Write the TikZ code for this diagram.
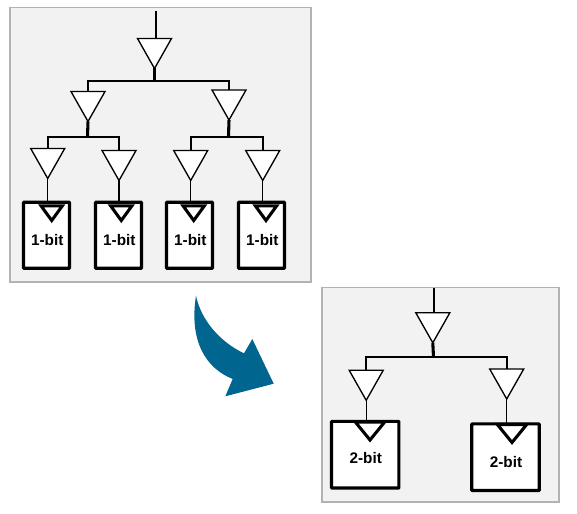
\documentclass[tikz,border=0pt]{standalone}
\usepackage{fontspec}
\setmainfont{Liberation Sans}
\usetikzlibrary{shapes.geometric}

\begin{document}
\begin{tikzpicture}[x=0.75pt,y=-0.75pt]
\tikzset{
  panelbox/.style={draw=black!30,fill=black!5,line width=1.1pt,inner sep=0pt,outer sep=0pt},
  bufnode/.style={isosceles triangle,isosceles triangle stretches,shape border rotate=-90,draw,fill=white,line width=1pt,inner sep=0pt,outer sep=0pt,minimum width=25.5pt,minimum height=22.5pt,anchor=apex},
  clknode/.style={isosceles triangle,isosceles triangle stretches,shape border rotate=-90,draw,fill=white,line width=2.3pt,inner sep=0pt,outer sep=0pt,anchor=apex},
  ffbox/.style={rectangle,draw,fill=white,line width=2.4pt,inner sep=0pt,outer sep=0pt,rounded corners=0.5pt},
  bitlabel/.style={font=\fontsize{11.5}{13}\selectfont\bfseries,inner sep=0pt},
  wire/.style={line width=1.3pt},
  feed/.style={line width=1pt},
  stem/.style={line width=2.3pt}
}
\useasboundingbox (0,0) rectangle (577,513);
\node[panelbox,minimum width=225.5pt,minimum height=206pt] (n_panelA) at (160.5,144.7) {};
\node[panelbox,minimum width=178pt,minimum height=161pt] (n_panelB) at (440.5,394.8) {};
% upper tree
\coordinate (n_inA) at (156,11);
\coordinate (n_busA) at (154.5,81.3);
\coordinate (n_busL) at (87.5,136.7);
\coordinate (n_busR) at (228.5,136.7);
\node[bufnode] (n_a0) at (154.5,68.5) {};
\node[bufnode] (n_a1) at (88,121.5) {};
\node[bufnode] (n_a2) at (229,120) {};
\node[bufnode] (n_a3) at (47.7,178.5) {};
\node[bufnode] (n_a4) at (119,180.5) {};
\node[bufnode] (n_a5) at (190.7,180.5) {};
\node[bufnode] (n_a6) at (262.7,180.5) {};
\node[ffbox,minimum width=34.5pt,minimum height=49.5pt] (n_ff1) at (46.5,235.3) {};
\node[ffbox,minimum width=34.5pt,minimum height=49.5pt] (n_ff2) at (118.5,235.3) {};
\node[ffbox,minimum width=34.5pt,minimum height=49.5pt] (n_ff3) at (189.5,235.3) {};
\node[ffbox,minimum width=34.5pt,minimum height=49.5pt] (n_ff4) at (261.5,235.3) {};
\node[clknode,minimum width=16pt,minimum height=11pt] (n_clk1) at (51.7,220.5) {};
\node[clknode,minimum width=16pt,minimum height=11pt] (n_clk2) at (121.3,220.5) {};
\node[clknode,minimum width=16pt,minimum height=11pt] (n_clk3) at (193.7,220.5) {};
\node[clknode,minimum width=16pt,minimum height=11pt] (n_clk4) at (266,220.5) {};
\node[bitlabel] (n_lab1) at (47.3,240.5) {1-bit};
\node[bitlabel] (n_lab2) at (119.3,240.5) {1-bit};
\node[bitlabel] (n_lab3) at (190.3,240.5) {1-bit};
\node[bitlabel] (n_lab4) at (262.3,240.5) {1-bit};
\draw[feed] (n_inA) -- (n_a0.lower side -| n_inA);
\draw[stem] (n_a0.apex) -- (n_busA);
\draw[wire] (n_busA) -| (n_a1.lower side);
\draw[wire] (n_busA) -| (n_a2.lower side);
\draw[stem] (n_a1.apex) -- (n_busL);
\draw[stem] (n_a2.apex) -- (n_busR);
\draw[wire] (n_busL) -| (n_a3.lower side);
\draw[wire] (n_busL) -| (n_a4.lower side);
\draw[wire] (n_busR) -| (n_a5.lower side);
\draw[wire] (n_busR) -| (n_a6.lower side);
\draw[feed] (n_a3.apex) -- (n_a3.apex |- n_ff1.north);
\draw[feed] (n_a4.apex) -- (n_a4.apex |- n_ff2.north);
\draw[feed] (n_a5.apex) -- (n_a5.apex |- n_ff3.north);
\draw[feed] (n_a6.apex) -- (n_a6.apex |- n_ff4.north);
% lower tree
\coordinate (n_inB) at (434,288);
\coordinate (n_busB) at (433.5,357.3);
\node[bufnode] (n_b0) at (432.8,342.8) {};
\node[bufnode] (n_b1) at (366.2,400.3) {};
\node[bufnode] (n_b2) at (506.7,399) {};
\node[ffbox,minimum width=50.5pt,minimum height=50pt] (n_ff5) at (365.2,454.7) {};
\node[ffbox,minimum width=50.5pt,minimum height=50pt] (n_ff6) at (505.5,457.2) {};
\node[clknode,minimum width=22pt,minimum height=13.5pt] (n_clk5) at (370,440) {};
\node[clknode,minimum width=22pt,minimum height=13.5pt] (n_clk6) at (512,442.5) {};
\node[bitlabel] (n_lab5) at (365.7,458.3) {2-bit};
\node[bitlabel] (n_lab6) at (506,461.7) {2-bit};
\draw[feed] (n_inB) -- (n_b0.lower side -| n_inB);
\draw[stem] (n_b0.apex) -- (n_busB);
\draw[wire] (n_busB) -| (n_b1.lower side);
\draw[wire] (n_busB) -| (n_b2.lower side);
\draw[feed] (n_b1.apex) -- (n_b1.apex |- n_ff5.north);
\draw[feed] (n_b2.apex) -- (n_b2.apex |- n_ff6.north);
% curved arrow
\fill[fill={rgb,255:red,0;green,101;blue,143}] (196,295.7) .. controls (201,320) and (220,342) .. (244,353.3) -- (252.3,339) -- (273.7,383.7) -- (225.3,396.3) -- (232.7,379) .. controls (205,368) and (189,340) .. cycle;
\end{tikzpicture}
\end{document}
